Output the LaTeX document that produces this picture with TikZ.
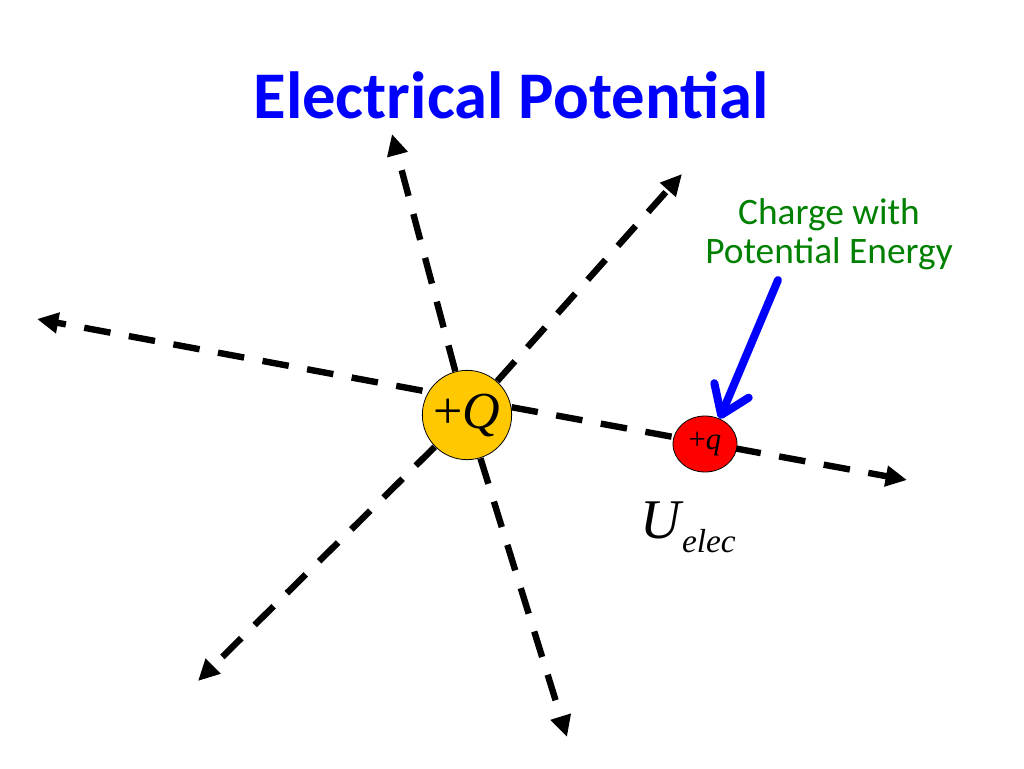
\documentclass[tikz,border=0pt]{standalone}
\usepackage{fontspec}
\usetikzlibrary{arrows.meta,shapes.geometric,backgrounds}
\newfontfamily\carl{Carlito}
\newfontfamily\tnr{Liberation Serif}
\definecolor{gold}{RGB}{255,200,0}
\definecolor{qred}{RGB}{255,0,0}
\definecolor{tblue}{RGB}{0,0,255}
\definecolor{lgreen}{RGB}{0,128,0}
\begin{document}
\begin{tikzpicture}[x=0.75pt,y=-0.75pt,
  ray/.style={line width=4.8pt, dash pattern=on 20pt off 14pt, -{Triangle[length=16pt,width=15pt]}},
  charge/.style={draw=black, line width=0.6pt, inner sep=0pt},
  pointer/.style={tblue, line width=6pt, line cap=round, line join=round, -{Straight Barb[length=20pt,width=28pt,line cap=round,line join=round]}}]
\path[use as bounding box] (0,0) rectangle (1024,768);
% charges
\node[charge, circle, fill=gold, minimum size=67pt, font=\tnr\fontsize{39}{39}\selectfont] (Q) at (467,415) {+\textit{Q}};
\node[charge, ellipse, fill=qred, minimum width=48pt, minimum height=42pt, font=\tnr\fontsize{23}{23}\selectfont] (q) at (705,444) {+\textit{q}};
% ray end points
\coordinate (tL) at (37,319);
\coordinate (tR) at (907,480);
\coordinate (tU) at (392,134);
\coordinate (tUR) at (682,174);
\coordinate (tLL) at (198,681);
\coordinate (tD) at (567,737);
\begin{scope}[on background layer]
  \draw[ray] ([yshift=12pt]Q.center) -- (tL);
  \draw[ray] ([yshift=12pt]Q.center) -- (tR);
  \draw[ray] (Q.center) -- (tU);
  \draw[ray] (Q.center) -- (tUR);
  \draw[ray] (Q.center) -- (tLL);
  \draw[ray] (Q.center) -- (tD);
\end{scope}
% texts
\node[font=\carl\bfseries\fontsize{50}{60}\selectfont, text=tblue, anchor=base, inner sep=0pt] (title) at (511,118) {Electrical Potential};
\node[font=\carl\fontsize{28}{29}\selectfont, text=lgreen, align=center, inner sep=0pt] (label) at (829,234) {Charge with\\Potential Energy};
\node[font=\tnr\itshape\fontsize{42}{42}\selectfont, anchor=base west, inner sep=0pt] (U) at (640,538) {U\kern1pt\raisebox{-10.5pt}{\fontsize{25}{25}\selectfont elec}};
% pointer
\coordinate (pstart) at (778,280);
\draw[pointer] (pstart) -- (q.60);
\end{tikzpicture}
\end{document}
